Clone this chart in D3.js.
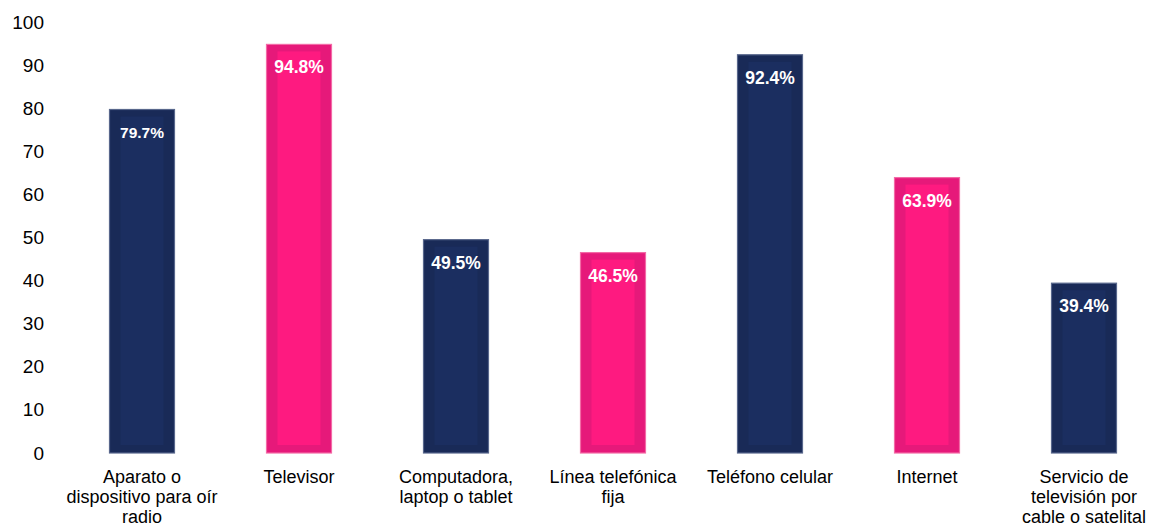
<!DOCTYPE html>
<html>
<head>
<meta charset="utf-8">
<script src="https://cdn.jsdelivr.net/npm/d3@7"></script>
<style>
  html, body { margin: 0; padding: 0; background: #fff; }
  svg { display: block; }
</style>
</head>
<body>
<div id="chart"></div>
<script>
const categories = [
  "Aparato o\ndispositivo para oír\nradio",
  "Televisor",
  "Computadora,\nlaptop o tablet",
  "Línea telefónica\nfija",
  "Teléfono celular",
  "Internet",
  "Servicio de\ntelevisión por\ncable o satelital"
];
const values = [79.7, 94.8, 49.5, 46.5, 92.4, 63.9, 39.4];
const colorGroups = ["navy", "pink", "navy", "pink", "navy", "pink", "navy"];
const yTicks = [0, 10, 20, 30, 40, 50, 60, 70, 80, 90, 100];

const W = 1151, H = 526;
const palette = {
  navy: { outer: "#192a57", inner: "#1b2e60", edge: "#58678c" },
  pink: { outer: "#e6197a", inner: "#fe1a80", edge: "#f36aa6" }
};

const svg = d3.select("#chart").append("svg").attr("width", W).attr("height", H);

const x = d3.scaleBand().domain(categories).range([63.5, 1162.5])
  .paddingInner(0.586).paddingOuter(0.293);
const y = d3.scaleLinear().domain([0, 100]).range([453, 22]);

// Y axis (labels only)
const yAxis = svg.append("g").attr("transform", "translate(44,0)")
  .call(d3.axisLeft(y).tickValues(yTicks).tickSize(0).tickPadding(0).tickFormat(d3.format("d")));
yAxis.select(".domain").remove();
yAxis.selectAll("text").attr("font-family", "Liberation Sans, Arial, sans-serif")
  .attr("font-size", 19).attr("fill", "#000");

const data = categories.map((c, i) => ({ c, v: values[i], g: colorGroups[i], i }));

const bars = svg.append("g").selectAll("g").data(data).join("g");
bars.append("rect")
  .attr("x", d => x(d.c)).attr("y", d => y(d.v))
  .attr("width", x.bandwidth()).attr("height", d => y(0) - y(d.v))
  .attr("fill", d => palette[d.g].outer)
  .attr("stroke", d => palette[d.g].edge).attr("stroke-width", 1.2);
bars.append("rect")
  .attr("x", d => x(d.c) + 11).attr("y", d => y(d.v) + 7)
  .attr("width", x.bandwidth() - 22).attr("height", d => Math.max(0, y(0) - y(d.v) - 15))
  .attr("fill", d => palette[d.g].inner);

bars.append("text")
  .attr("x", d => x(d.c) + x.bandwidth() / 2)
  .attr("y", d => y(d.v) + 29)
  .attr("text-anchor", "middle")
  .attr("font-family", "Liberation Sans, Arial, sans-serif")
  .attr("font-weight", "bold")
  .attr("font-size", d => d.i === 0 ? 15.5 : 17.5)
  .attr("fill", "#fff")
  .text(d => d.v.toFixed(1) + "%");

// X axis labels
const xAxis = svg.append("g").attr("transform", "translate(0,453)")
  .call(d3.axisBottom(x).tickSize(0).tickPadding(0).tickFormat(""));
xAxis.select(".domain").remove();
xAxis.selectAll(".tick").each(function(d) {
  const lines = d.split("\n");
  const t = d3.select(this).append("text")
    .attr("text-anchor", "middle")
    .attr("font-family", "Liberation Sans, Arial, sans-serif")
    .attr("font-size", 18).attr("fill", "#000");
  lines.forEach((ln, k) => {
    t.append("tspan").attr("x", 0).attr("y", 30 + k * 20).text(ln);
  });
});
</script>
</body>
</html>
